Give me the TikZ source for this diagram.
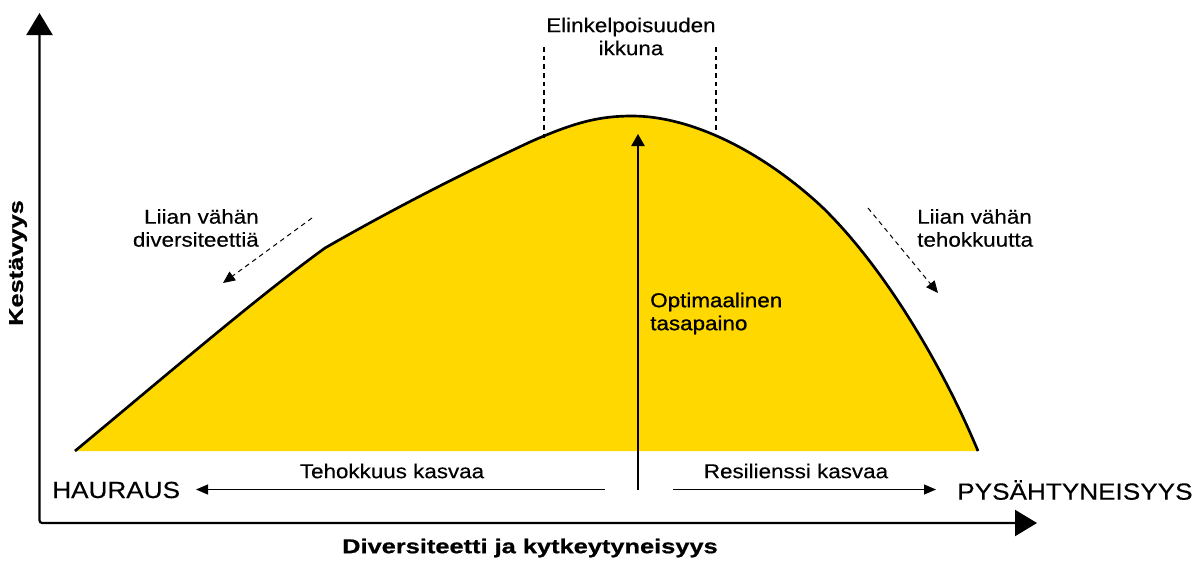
\documentclass[tikz,border=0pt]{standalone}
\usepackage{fontspec}
\setmainfont{Liberation Sans}[FakeStretch=1.12,FakeBold=0.35]
\newfontfamily\medfont{Liberation Sans}[FakeStretch=1.12,FakeBold=1]
\newfontfamily\widebold{Liberation Sans Bold}[FakeStretch=1.27,FakeBold=0.8]
\usetikzlibrary{arrows.meta}
\definecolor{curvefill}{HTML}{FFD800}
\tikzset{
  lbl/.style={inner sep=0pt, font=\fontsize{15}{17.25}\selectfont},
  medlbl/.style={inner sep=0pt, font=\medfont\fontsize{15}{17.25}\selectfont},
  endlbl/.style={inner sep=0pt, font=\fontsize{17.5}{20}\selectfont},
  axistitle/.style={inner sep=0pt, font=\widebold\fontsize{15}{18}\selectfont},
  axisline/.style={line width=1.6pt, {Triangle[width=19.5pt,length=16.5pt]}-{Triangle[width=19.5pt,length=16.5pt]}},
  thinarrow/.style={line width=0.8pt, -{Triangle[width=7.5pt,length=9pt]}},
  dasharrow/.style={line width=0.75pt, dash pattern=on 3.5pt off 3pt, -{Triangle[width=8pt,length=9pt]}},
  windowline/.style={line width=0.9pt, dash pattern=on 3.5pt off 3pt},
  curveline/.style={line width=2pt, line join=round},
}
\begin{document}
\begin{tikzpicture}[x=0.75pt,y=-0.75pt]
\useasboundingbox (0,0) rectangle (1203,561);
% curve fill
\fill[curvefill] (75,451) .. controls (170,372) and (260,295) .. (325,248)
  .. controls (400,205) and (470,170) .. (530,142)
  .. controls (575,122) and (600,116) .. (632,116)
  .. controls (690,116) and (760,150) .. (820,205)
  .. controls (880,262) and (940,360) .. (978,451) -- cycle;
\draw[curveline] (75,451) .. controls (170,372) and (260,295) .. (325,248)
  .. controls (400,205) and (470,170) .. (530,142)
  .. controls (575,122) and (600,116) .. (632,116)
  .. controls (690,116) and (760,150) .. (820,205)
  .. controls (880,262) and (940,360) .. (978,451);
% axes
\coordinate (ytip) at (39.5,13);
\coordinate (corner) at (39.5,523);
\coordinate (xtip) at (1037,523);
\draw[axisline, rounded corners=2pt] (ytip) -- (corner) -- (xtip);
% window dashed lines
\coordinate (wl1) at (544,47);
\coordinate (wl2) at (544,138);
\coordinate (wr1) at (716,47);
\coordinate (wr2) at (716,133);
\draw[windowline] (wl1) -- (wl2);
\draw[windowline] (wr1) -- (wr2);
\node[lbl, align=center] (window) at (631,36.5) {Elinkelpoisuuden\\ikkuna};
% optimum arrow
\coordinate (optbot) at (638,490);
\coordinate (opttop) at (638,134);
\draw[line width=1.1pt, -{Triangle[width=10pt,length=9pt]}] (optbot) -- (opttop);
\node[medlbl, anchor=west, align=left] (opt) at (650,313.5) {Optimaalinen\\tasapaino};
% side labels
\node[lbl, anchor=east, align=right] (lowdiv) at (259,228) {Liian vähän\\diversiteettiä};
\node[lbl, anchor=west, align=left] (loweff) at (917,228) {Liian vähän\\tehokkuutta};
\coordinate (ld1) at (312,218);
\coordinate (ld2) at (223,283);
\coordinate (le1) at (868,208);
\coordinate (le2) at (938,293);
\draw[dasharrow] (ld1) -- (ld2);
\draw[dasharrow] (le1) -- (le2);
% bottom labels
\node[endlbl, anchor=west] (haur) at (52,490) {HAURAUS};
\node[endlbl, anchor=west] (pys) at (957,490) {PYSÄHTYNEISYYS};
\coordinate (la) at (605,489.5);
\coordinate (latip) at (196,489.5);
\coordinate (ra) at (673,489.5);
\coordinate (ratip) at (936,489.5);
\draw[thinarrow] (la) -- (latip);
\draw[thinarrow] (ra) -- (ratip);
\node[lbl] (eff) at (392,471) {Tehokkuus kasvaa};
\node[lbl] (res) at (796,471) {Resilienssi kasvaa};
% axis titles
\node[axistitle] (xtitle) at (530,548) {Diversiteetti ja kytkeytyneisyys};
\node[axistitle, rotate=90] (ytitle) at (18,263) {Kestävyys};
\end{tikzpicture}
\end{document}
